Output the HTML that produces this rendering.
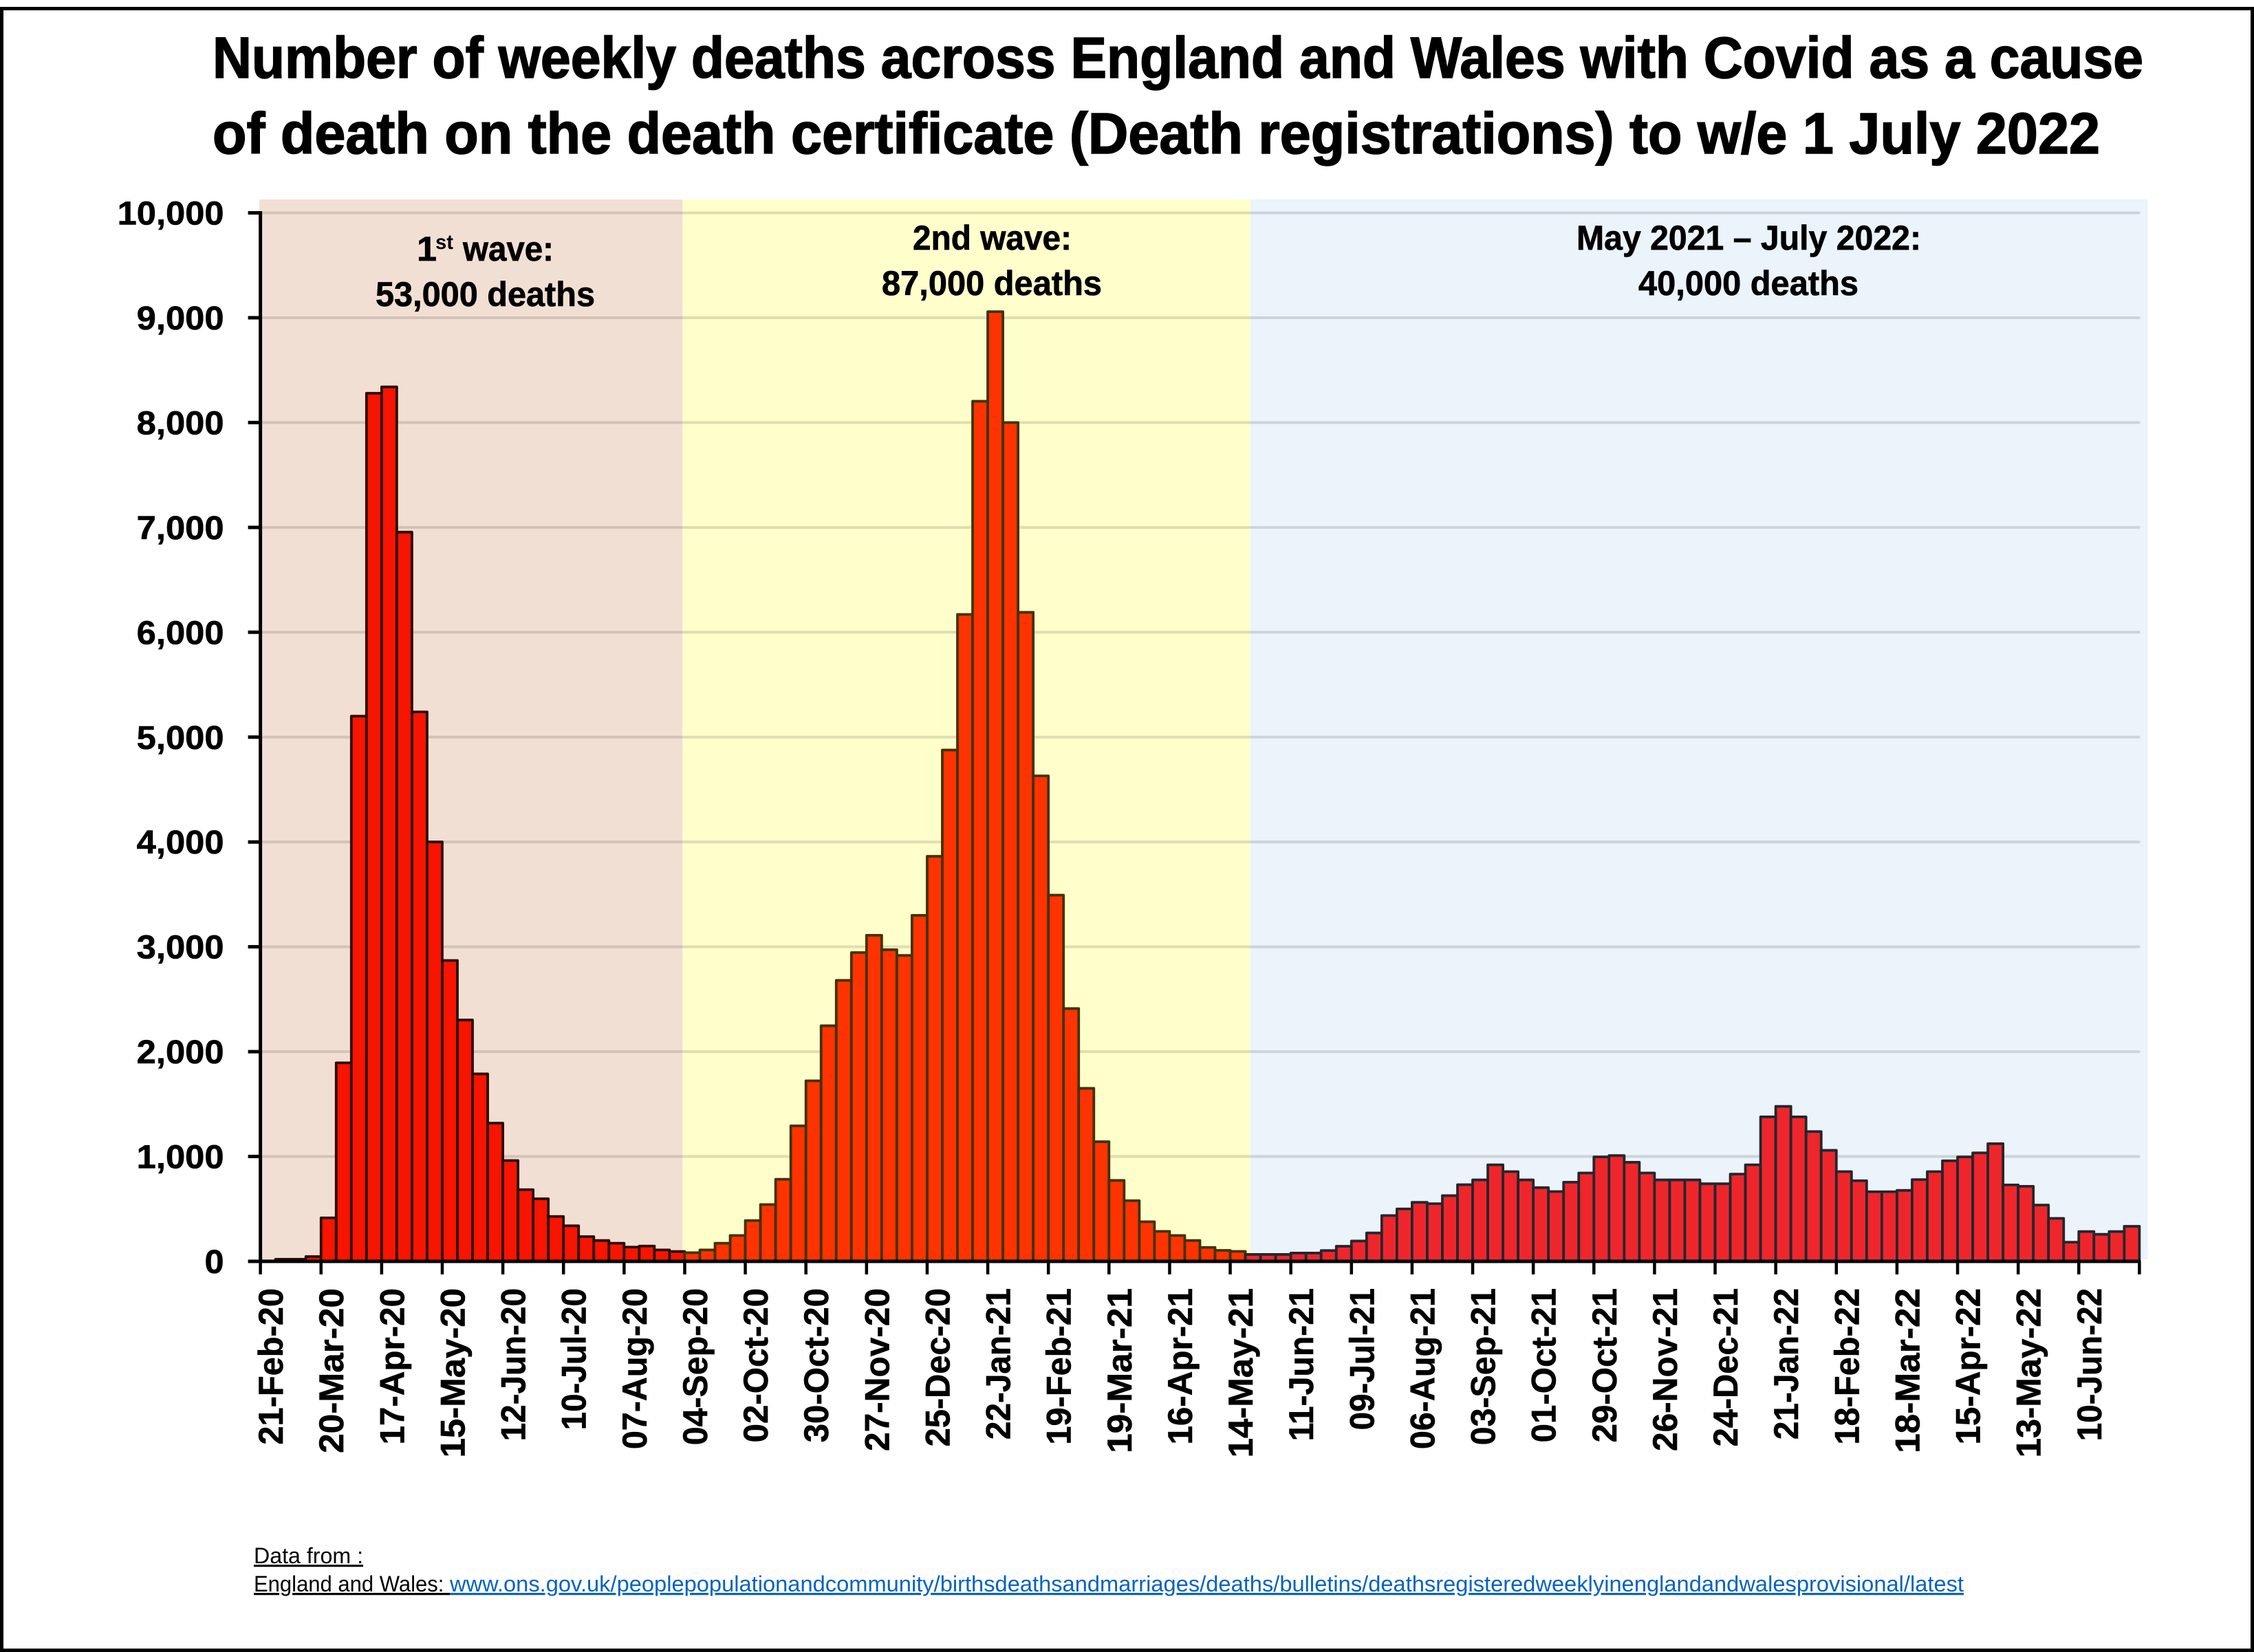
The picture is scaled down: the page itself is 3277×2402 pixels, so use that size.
<!DOCTYPE html>
<html lang="en">
<head>
<meta charset="utf-8">
<title>Weekly deaths with Covid on the death certificate, England and Wales</title>
<style>
  html, body { margin: 0; padding: 0; background: #fff; }
  svg { display: block; font-family: "Liberation Sans", Arial, sans-serif; }
  .heading { font-size: 84px; font-weight: 700; fill: #000; stroke: #000; stroke-width: 1.6px; }
  .wave { font-size: 50px; font-weight: 700; fill: #000; stroke: #000; stroke-width: 0.7px; }
  .note { font-size: 32px; fill: #000; text-decoration: underline; }
  .link { font-size: 32px; fill: #0563C1; text-decoration: underline; }
  .ytick { font-size: 48px; font-weight: 700; fill: #000; stroke: #000; stroke-width: 0.6px; }
  .xtick { font-size: 50px; font-weight: 700; fill: #000; stroke: #000; stroke-width: 0.6px; }
</style>
</head>
<body>
<svg id="chart" xmlns="http://www.w3.org/2000/svg" width="3277" height="2402" viewBox="0 0 3277 2402">
  <rect x="0" y="0" width="3277" height="2402" fill="#fff"/>
  <g id="bands"></g>
  <g id="grid"></g>
  <g id="bars"></g>
  <g id="axes"></g>
  <g id="ylabels"></g>
  <g id="xlabels"></g>

  <text class="heading" x="309" y="113" textLength="2807" lengthAdjust="spacingAndGlyphs">Number of weekly deaths across England and Wales with Covid as a cause</text>
  <text class="heading" x="309" y="223" textLength="2744" lengthAdjust="spacingAndGlyphs">of death on the death certificate (Death registrations) to w/e 1 July 2022</text>

  <text class="wave" x="606" y="379" textLength="29" lengthAdjust="spacingAndGlyphs">1</text>
  <text x="633" y="362" font-size="30" font-weight="700" textLength="26" lengthAdjust="spacingAndGlyphs">st</text>
  <text class="wave" x="673" y="379" textLength="132" lengthAdjust="spacingAndGlyphs">wave:</text>
  <text class="wave" x="546" y="445" textLength="319" lengthAdjust="spacingAndGlyphs">53,000 deaths</text>

  <text class="wave" x="1327" y="363" textLength="231" lengthAdjust="spacingAndGlyphs">2nd wave:</text>
  <text class="wave" x="1282" y="429" textLength="320" lengthAdjust="spacingAndGlyphs">87,000 deaths</text>

  <text class="wave" x="2292" y="363" textLength="501" lengthAdjust="spacingAndGlyphs">May 2021 – July 2022:</text>
  <text class="wave" x="2382" y="429" textLength="320" lengthAdjust="spacingAndGlyphs">40,000 deaths</text>

  <text class="note" x="369" y="2273" textLength="159" lengthAdjust="spacingAndGlyphs">Data from :</text>
  <text class="note" x="369" y="2314" textLength="285" lengthAdjust="spacingAndGlyphs" xml:space="preserve">England and Wales: </text>
  <text class="link" x="654" y="2314" textLength="2201" lengthAdjust="spacingAndGlyphs">www.ons.gov.uk/peoplepopulationandcommunity/birthsdeathsandmarriages/deaths/bulletins/deathsregisteredweeklyinenglandandwalesprovisional/latest</text>

  <g fill="#000">
    <rect x="0" y="10" width="3277" height="5"/>
    <rect x="0" y="10" width="5" height="2392"/>
    <rect x="3272" y="10" width="5" height="2392"/>
    <rect x="0" y="2397" width="3277" height="5"/>
  </g>
</svg>

<script>
// Weekly deaths, one value per week from w/e 21-Feb-20 to w/e 01-Jul-22
const deaths = [
  5, 20, 20, 46, 415, 1893, 5200, 8280, 8340, 6955, 5240, 4000, 2870, 2302, 1788, 1318,
  962, 684, 597, 428, 339, 236, 199, 173, 136, 146, 109, 94,
  83, 109, 173, 247, 389, 542, 783, 1292, 1722, 2247, 2680, 2945, 3110, 2972, 2918, 3300,
  3863, 4877, 6170, 8203, 9058, 8000, 6190, 4630, 3493, 2411, 1650, 1141, 772, 579, 378, 286,
  247, 199, 133, 105, 95,
  66, 66, 66, 79, 79, 103, 144, 194, 271, 437, 500, 563, 550, 627, 731, 777, 921, 856, 777,
  703, 666, 755, 843, 996, 1009, 945, 843, 777, 777, 777, 740, 740, 832, 921, 1378, 1478,
  1378, 1238, 1059, 856, 769, 664, 664, 677, 780, 856, 959, 996, 1035, 1122, 729, 716, 537,
  410, 183, 284, 258, 284, 334
];

// A label sits under every fourth week, starting at the first week
const tickLabels = [
  "21-Feb-20", "20-Mar-20", "17-Apr-20", "15-May-20", "12-Jun-20", "10-Jul-20", "07-Aug-20",
  "04-Sep-20", "02-Oct-20", "30-Oct-20", "27-Nov-20", "25-Dec-20", "22-Jan-21", "19-Feb-21",
  "19-Mar-21", "16-Apr-21", "14-May-21", "11-Jun-21", "09-Jul-21", "06-Aug-21", "03-Sep-21",
  "01-Oct-21", "29-Oct-21", "26-Nov-21", "24-Dec-21", "21-Jan-22", "18-Feb-22", "18-Mar-22",
  "15-Apr-22", "13-May-22", "10-Jun-22"
];
const tickEvery = 4;
const yTicks = [0, 1000, 2000, 3000, 4000, 5000, 6000, 7000, 8000, 9000, 10000];

// First week index of each bar colour series
const secondWaveStart = 28;
const thirdPeriodStart = 65;

// Background periods, in week units along the x axis
const periodEdges = [-0.07, 27.86, 65.33, 124.55];

// ---- layout and scales ----
const NS = "http://www.w3.org/2000/svg";
const plot = { left: 378.6, right: 3110.4, base: 1834, top: 309.5, yMax: 10000 };
const bandW = (plot.right - plot.left) / deaths.length;
const xScale = i => plot.left + i * bandW;
const yScale = v => plot.base - (v / plot.yMax) * (plot.base - plot.top);

const periodFills = ["#F2DFD3", "#FFFFCC", "#EBF3FB"];
const seriesStyles = [
  { fill: "#F71400", stroke: "#2A0E00" },
  { fill: "#FF3300", stroke: "#403300" },
  { fill: "#EE262C", stroke: "#23272E" }
];

// Calibri Bold advance widths, used to fit the substitute font to the original text lengths
const advance = { "-": .306, ",": .258, F: .459, e: .503, b: .537, M: .874, a: .494, r: .355, A: .606, p: .537,
  y: .474, J: .331, u: .537, n: .537, l: .246, g: .474, S: .473, O: .676, c: .418, t: .347, N: .659, v: .473, o: .538, D: .63 };
const textWidth = s => [...s].reduce((sum, ch) => sum + (advance[ch] !== undefined ? advance[ch] : .507), 0);

function make(tag, attrs, parent) {
  const node = document.createElementNS(NS, tag);
  for (const key in attrs) node.setAttribute(key, attrs[key]);
  parent.appendChild(node);
  return node;
}

const bandsG = document.getElementById("bands");
const gridG = document.getElementById("grid");
const barsG = document.getElementById("bars");
const axesG = document.getElementById("axes");
const yLabelsG = document.getElementById("ylabels");
const xLabelsG = document.getElementById("xlabels");

// period bands
periodFills.forEach((fill, k) => {
  const band = make("rect", {
    x: xScale(periodEdges[k]), y: 290,
    width: xScale(periodEdges[k + 1]) - xScale(periodEdges[k]),
    height: 1541, fill: fill
  }, bandsG);
  
  
});

// gridlines and y ticks
yTicks.forEach(v => {
  if (v > 0) {
    const line = make("line", {
      x1: plot.left, x2: plot.right + 1, y1: yScale(v), y2: yScale(v),
      stroke: "rgba(0,0,0,0.13)", "stroke-width": 4
    }, gridG);
    
    
  }
  const tick = make("line", {
    x1: plot.left - 18, x2: plot.left, y1: yScale(v), y2: yScale(v),
    stroke: "#000", "stroke-width": 5
  }, axesG);
  
  

  const label = v.toLocaleString("en-GB");
  const text = make("text", {
    class: "ytick", x: plot.left - 53, y: yScale(v) + 17, "text-anchor": "end",
    textLength: (textWidth(label) * 55.5).toFixed(1), lengthAdjust: "spacingAndGlyphs"
  }, yLabelsG);
  text.textContent = label;
  
  
});

// bars
deaths.forEach((value, i) => {
  const style = seriesStyles[i < secondWaveStart ? 0 : i < thirdPeriodStart ? 1 : 2];
  const bar = make("rect", {
    x: xScale(i), y: yScale(value),
    width: bandW, height: Math.max(0, yScale(0) - yScale(value)),
    fill: style.fill, stroke: style.stroke, "stroke-width": 3.8, "stroke-linejoin": "round"
  }, barsG);
  
  
});

// axis lines
const yAxis = make("line", { x1: plot.left, x2: plot.left, y1: yScale(plot.yMax) - 2.5, y2: plot.base + 2.5, stroke: "#000", "stroke-width": 5 }, axesG);


const xAxis = make("line", { x1: plot.left, x2: plot.right + 2, y1: plot.base, y2: plot.base, stroke: "#000", "stroke-width": 5 }, axesG);



// x ticks
for (let i = 0; i <= deaths.length; i += tickEvery) {
  const tick = make("line", { x1: xScale(i), x2: xScale(i), y1: plot.base, y2: plot.base + 19, stroke: "#000", "stroke-width": 4.5 }, axesG);
  
  
}

// x tick labels, rotated and centred on the week they mark
tickLabels.forEach((label, k) => {
  const centre = xScale(k * tickEvery + 0.5);
  const text = make("text", { class: "xtick", "text-anchor": "end" }, xLabelsG);
  text.textContent = label;
  
  
  const squeeze = (textWidth(label) * 55) / text.getComputedTextLength();
  text.setAttribute("transform", "translate(" + (centre + 21.5) + " 1873) rotate(-90) scale(" + squeeze.toFixed(4) + " 1)");
});
</script>
</body>
</html>
